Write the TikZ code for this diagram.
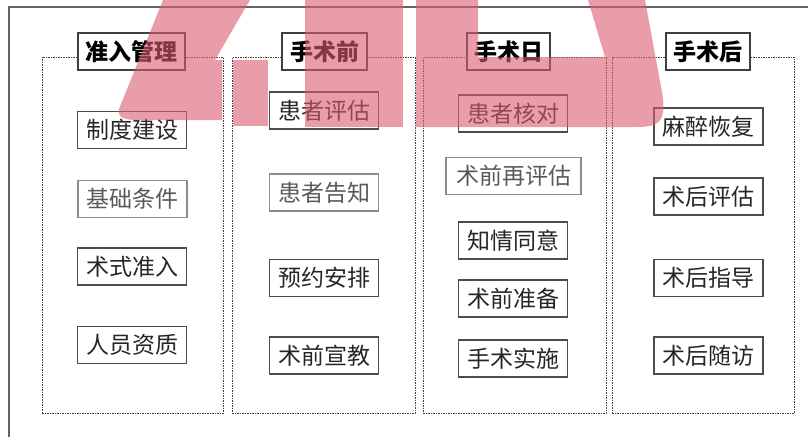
\documentclass[tikz,border=0pt]{standalone}
\usepackage{fontspec}
\setmainfont{Noto Sans CJK SC}
\usepackage{tikz}
\definecolor{wmpink}{RGB}{218,92,110}
\definecolor{framegray}{RGB}{100,100,100}

\begin{document}
\begin{tikzpicture}[
    x=1pt, y=-1pt,
    item/.style={rectangle, draw=black!70, line width=1.3pt, minimum width=109pt, minimum height=37pt, inner sep=0pt, font=\fontsize{23}{26}\selectfont, text=black!85},
    faint/.style={draw=black!45, text=black!65},
    head/.style={rectangle, draw=black!75, line width=1.3pt, fill=white, minimum height=37pt, inner sep=0pt, font=\fontsize{23}{26}\selectfont\bfseries},
    lane/.style={rectangle, draw=black!75, dash pattern=on 1.5pt off 1pt, line width=0.8pt, minimum height=356pt, inner sep=0pt}
]
\useasboundingbox (0,0) rectangle (808,437);

% outer frame
\draw[framegray, line width=1.6pt] (808,7) -- (9,7) -- (9,437);

% lanes
\node[lane, minimum width=181pt] (lane1) at (132.5,235) {};
\node[lane, minimum width=183pt] (lane2) at (323.5,235) {};
\node[lane, minimum width=183pt] (lane3) at (514.5,235) {};
\node[lane, minimum width=182pt] (lane4) at (703,235) {};

% headings
\node[head, minimum width=107pt] (admit) at (131.5,51.5) {准入管理};
\node[head, minimum width=85pt] (preop) at (324.5,51.5) {手术前};
\node[head, minimum width=83pt] (opday) at (508.5,51.5) {手术日};
\node[head, minimum width=84pt] (postop) at (708,51.5) {手术后};

% lane 1
\node[item] (rules) at (132,130) {制度建设};
\node[item, faint] (basis) at (132.5,199) {基础条件};
\node[item] (access) at (132,266.5) {术式准入};
\node[item] (staff) at (132,345) {人员资质};

% lane 2
\node[item] (assess) at (324,110.5) {患者评估};
\node[item, faint] (inform) at (324,192.5) {患者告知};
\node[item] (booking) at (324,278) {预约安排};
\node[item] (educate) at (324,355.5) {术前宣教};

% lane 3
\node[item] (check) at (513,113.5) {患者核对};
\node[item, faint, minimum width=135pt] (reassess) at (513.5,176) {术前再评估};
\node[item] (consent) at (513,240.5) {知情同意};
\node[item] (prepare) at (513,298.5) {术前准备};
\node[item] (perform) at (513,358.5) {手术实施};

% lane 4
\node[item] (recover) at (708.5,126.5) {麻醉恢复};
\node[item] (review) at (708.5,196.5) {术后评估};
\node[item] (guide) at (708.5,278) {术后指导};
\node[item] (follow) at (708.5,355.5) {术后随访};

% watermark
\begin{scope}[opacity=0.6]
\fill[wmpink] (163,0) -- (250,0) -- (215,60) -- (222,60) -- (222,120) -- (138,120) .. controls (118,120) and (116,114) .. (121,104) -- cycle;
\fill[wmpink] (233,60) rectangle (268,126);
\fill[wmpink] (305,0) rectangle (403,127);
\fill[wmpink] (416,0) -- (478,0) -- (478,57) -- (605,57) -- (588,0) -- (645,0) -- (662,92) .. controls (668,127) and (655,127) .. (630,127) -- (416,127) -- cycle;
\end{scope}

\end{tikzpicture}
\end{document}
